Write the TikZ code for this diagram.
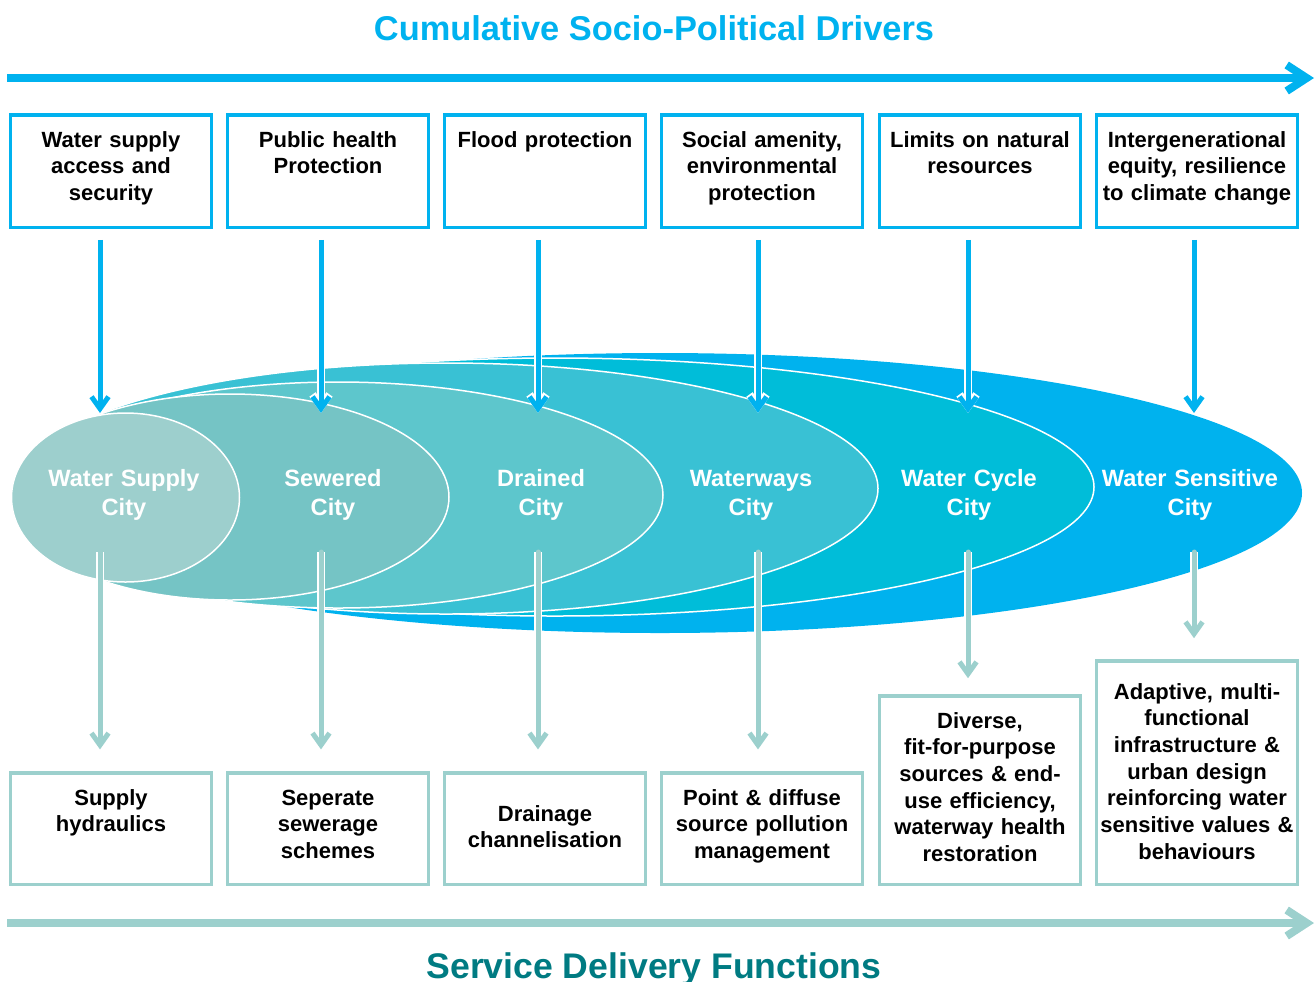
\documentclass[tikz,border=0pt]{standalone}
\usepackage{fontspec}
\setmainfont{Liberation Sans}
\usetikzlibrary{arrows.meta,positioning,calc}
\definecolor{drvblue}{HTML}{00B2EF}
\definecolor{fnteal}{HTML}{9CD0CD}
\definecolor{ttlteal}{HTML}{007B82}
\definecolor{cityA}{HTML}{9DCFCD}
\definecolor{cityB}{HTML}{75C4C5}
\definecolor{cityC}{HTML}{5DC6CC}
\definecolor{cityD}{HTML}{39C1D4}
\definecolor{cityE}{HTML}{00BDD9}
\definecolor{cityF}{HTML}{00B2EE}
\tikzset{
  drvbox/.style={draw=drvblue, line width=1.75pt, minimum width=100.5pt, minimum height=56.25pt, inner sep=0pt},
  fnbox/.style={draw=fnteal, line width=1.75pt, minimum width=100.5pt, inner sep=0pt},
  boxtxt/.style={anchor=base, text width=100pt, align=center, inner sep=0pt, font=\fontsize{11}{13.35}\selectfont\bfseries},
  citytxt/.style={anchor=base, text width=110pt, align=center, inner sep=0pt, text=white, font=\fontsize{11.8}{14.5}\selectfont\bfseries},
  ttltxt/.style={anchor=base, inner sep=0pt, font=\fontsize{17.2}{20}\selectfont\bfseries},
  ring/.style={draw=white, line width=0.75pt},
  drvarrow/.style={drvblue, line width=2.5pt, shorten <=5.4pt, -{Straight Barb[length=6pt,width=8.5pt]}, preaction={draw=white, line width=3.8pt}},
  fnarrow/.style={fnteal, line width=2.5pt, line cap=round, shorten >=10.8pt, -{Straight Barb[length=6pt,width=8.5pt]}, preaction={draw=white, line width=3.8pt}},
  axis/.style={line width=4pt, -{Straight Barb[length=10pt,width=13pt]}}
}
\begin{document}
\begin{tikzpicture}[x=0.5pt,y=-0.5pt]
\useasboundingbox (0,0) rectangle (1316,981);
% titles and the two axes
\node (ttl) at (654,40) [ttltxt, text=drvblue] {Cumulative Socio-Political Drivers};
\node (sub) at (654,978) [ttltxt, text=ttlteal, font=\fontsize{17.8}{20}\selectfont\bfseries] {Service Delivery Functions};
\coordinate (a0) at (7,78);
\coordinate (a1) at (1314,78);
\coordinate (b0) at (7,923);
\coordinate (b1) at (1314,923);
\draw[axis, drvblue] (a0)--(a1);
\draw[axis, fnteal] (b0)--(b1);
% nested cities, largest first
\fill[cityF] (660,493) ellipse [x radius=321pt, y radius=70pt];
\draw[ring, fill=cityE] (555,487) ellipse [x radius=269.5pt, y radius=64.5pt];
\draw[ring, fill=cityD] (446,488.5) ellipse [x radius=216pt, y radius=62.75pt];
\draw[ring, fill=cityC] (338,495) ellipse [x radius=162.5pt, y radius=56.5pt];
\draw[ring, fill=cityB] (230,497) ellipse [x radius=109.5pt, y radius=51.5pt];
\draw[ring, fill=cityA] (125.5,497.5) ellipse [x radius=57pt, y radius=42.25pt];
\node (c1) at (124,486) [citytxt] {Water Supply\\City};
\node (c2) at (333,486) [citytxt] {Sewered\\City};
\node (c3) at (541,486) [citytxt] {Drained\\City};
\node (c4) at (751,486) [citytxt] {Waterways\\City};
\node (c5) at (969,486) [citytxt] {Water Cycle\\City};
\node (c6) at (1190,486) [citytxt] {Water Sensitive\\City};
% drivers
\node (d1) at (111,171) [drvbox] {};
\node (d2) at (328,171) [drvbox] {};
\node (d3) at (545,171) [drvbox] {};
\node (d4) at (762,171) [drvbox] {};
\node (d5) at (980,171) [drvbox] {};
\node (d6) at (1197,171) [drvbox] {};
\node (d1t) at (111,147) [boxtxt] {Water supply\\access and\\security};
\node (d2t) at (328,147) [boxtxt] {Public health\\Protection};
\node (d3t) at (545,147) [boxtxt] {Flood protection};
\node (d4t) at (762,147) [boxtxt] {Social amenity,\\environmental\\protection};
\node (d5t) at (980,147) [boxtxt] {Limits on natural\\resources};
\node (d6t) at (1197,147) [boxtxt] {Intergenerational\\equity, resilience\\to climate change};
% functions
\node (f1) at (111,828.5) [fnbox, minimum height=55.75pt] {};
\node (f2) at (328,828.5) [fnbox, minimum height=55.75pt] {};
\node (f3) at (545,828.5) [fnbox, minimum height=55.75pt] {};
\node (f4) at (762,828.5) [fnbox, minimum height=55.75pt] {};
\node (f5) at (980,790) [fnbox, minimum height=94.25pt] {};
\node (f6) at (1197,772.5) [fnbox, minimum height=111.75pt] {};
\node (f1t) at (111,805) [boxtxt] {Supply\\hydraulics};
\node (f2t) at (328,805) [boxtxt] {Seperate\\sewerage\\schemes};
\node (f3t) at (545,821) [boxtxt] {Drainage\\channelisation};
\node (f4t) at (762,805) [boxtxt] {Point \& diffuse\\source pollution\\management};
\node (f5t) at (980,728) [boxtxt] {Diverse,\\fit-for-purpose\\sources \& end-\\use efficiency,\\waterway health\\restoration};
\node (f6t) at (1197,699) [boxtxt] {Adaptive, multi-\\functional\\infrastructure \&\\urban design\\reinforcing water\\sensitive values \&\\behaviours};
% arrow ends
\coordinate (t1) at (100,413);
\coordinate (t2) at (321,413);
\coordinate (t3) at (538,413);
\coordinate (t4) at (758,413);
\coordinate (t5) at (968,413);
\coordinate (t6) at (1194,413);
\coordinate (s1) at (100,552);
\coordinate (s2) at (321,552);
\coordinate (s3) at (538,552);
\coordinate (s4) at (758,552);
\coordinate (s5) at (968,552);
\coordinate (s6) at (1194,552);
\draw[drvarrow] (d1.south -| t1)--(t1);
\draw[drvarrow] (d2.south -| t2)--(t2);
\draw[drvarrow] (d3.south -| t3)--(t3);
\draw[drvarrow] (d4.south -| t4)--(t4);
\draw[drvarrow] (d5.south -| t5)--(t5);
\draw[drvarrow] (d6.south -| t6)--(t6);
\draw[fnarrow] (s1)--(f1.north -| s1);
\draw[fnarrow] (s2)--(f2.north -| s2);
\draw[fnarrow] (s3)--(f3.north -| s3);
\draw[fnarrow] (s4)--(f4.north -| s4);
\draw[fnarrow, shorten >=7.9pt] (s5)--(f5.north -| s5);
\draw[fnarrow, shorten >=10.4pt] (s6)--(f6.north -| s6);
\end{tikzpicture}
\end{document}
